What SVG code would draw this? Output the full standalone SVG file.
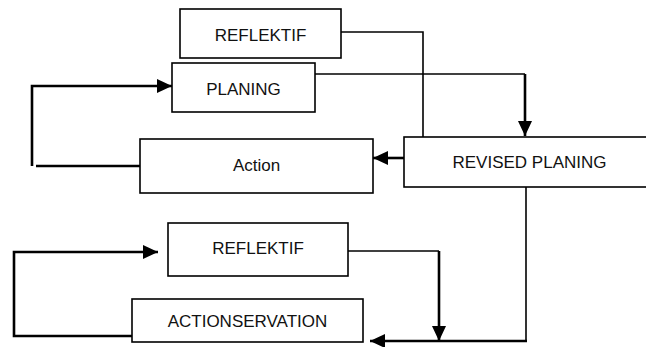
<svg xmlns="http://www.w3.org/2000/svg" width="646" height="347" viewBox="0 0 646 347">
<style>
.box{fill:#fff;stroke:#000;stroke-width:1.6}
.lbl{font-family:"Liberation Sans",Arial,sans-serif;font-size:17px;fill:#111;text-anchor:middle}
.thin{fill:none;stroke:#000;stroke-width:1.6}
.thick{fill:none;stroke:#000;stroke-width:2.6}
</style>
<defs>
<marker id="ah" markerUnits="userSpaceOnUse" markerWidth="16" markerHeight="14" refX="15" refY="7" orient="auto">
<path d="M0,0 L15,7 L0,14 Z" fill="#000"/>
</marker>
</defs>
<g id="connectors">
<path class="thick" d="M140,166 H36"/>
<path class="thick" d="M32,166 V86 H172" marker-end="url(#ah)"/>
<path class="thin" d="M341,32 H423 V137"/>
<path class="thin" d="M315,74 H525"/>
<path class="thick" d="M525,74 V136" marker-end="url(#ah)"/>
<path class="thick" d="M404,158 H373" marker-end="url(#ah)"/>
<path class="thin" d="M526,187 V341"/>
<path class="thick" d="M527,341 H370" marker-end="url(#ah)"/>
<path class="thin" d="M348,251 H439"/>
<path class="thick" d="M439,251 V341" marker-end="url(#ah)"/>
<path class="thick" d="M132,336 H14 V252 H158" marker-end="url(#ah)"/>
</g>
<g id="reflektif1">
<rect class="box" x="180" y="9" width="161" height="49"/>
<text class="lbl" x="260.5" y="41">REFLEKTIF</text>
</g>
<g id="planing">
<rect class="box" x="172" y="63" width="143" height="49"/>
<text class="lbl" x="243.5" y="95">PLANING</text>
</g>
<g id="action">
<rect class="box" x="140" y="139" width="233" height="54"/>
<text class="lbl" x="256.5" y="171">Action</text>
</g>
<g id="revised">
<rect class="box" x="404" y="137" width="250" height="50"/>
<text class="lbl" x="529.5" y="168">REVISED PLANING</text>
</g>
<g id="reflektif2">
<rect class="box" x="168" y="223" width="180" height="53"/>
<text class="lbl" x="258" y="254">REFLEKTIF</text>
</g>
<g id="actionservation">
<rect class="box" x="132" y="299" width="231" height="43"/>
<text class="lbl" x="247.5" y="327">ACTIONSERVATION</text>
</g>
</svg>
